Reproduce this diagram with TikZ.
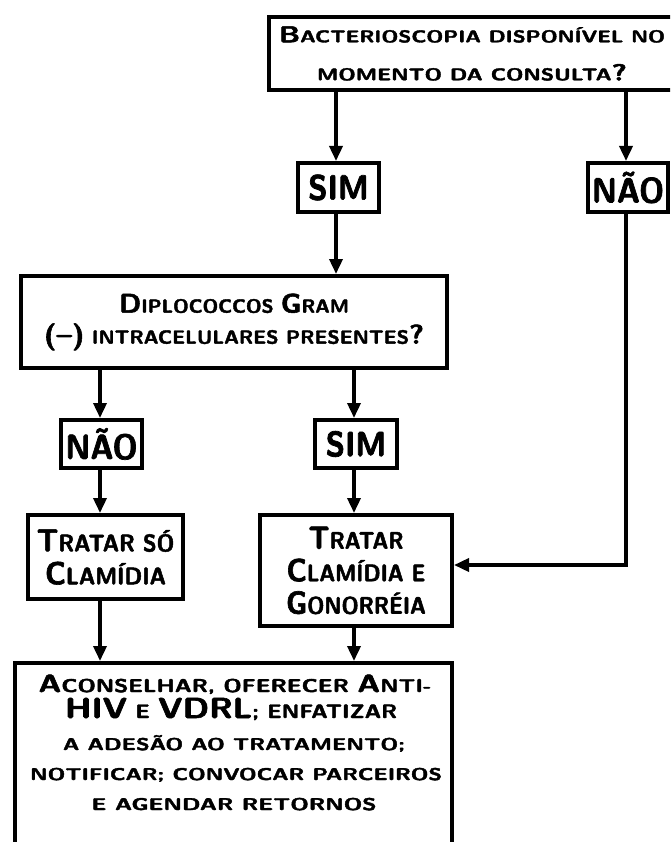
\documentclass[tikz,border=0pt]{standalone}
\usepackage{fontspec}
\usepackage{graphicx}
\usetikzlibrary{arrows.meta}
% heavy sans used for every label
\newfontfamily\capsfont{lmsans10-bold.otf}[FakeBold=2]
\newfontfamily\answerfont{lmsans10-bold.otf}[FakeBold=2, FakeStretch=0.9]
% size of the large initials in the small-capital style labels
\newcommand\bgsz{20}
\newcommand\Bg[1]{{\fontsize{\bgsz}{\bgsz}\selectfont #1}}
% small-capital setting: #1 horizontal stretch, #2 small size, #3 large size
\newcommand\capset[3]{\capsfont\addfontfeatures{FakeStretch=#1}\fontsize{#2}{#2}\selectfont\def\bgsz{#3}}
% a line set to a given width, its height unchanged
\newcommand\fitw[2]{\resizebox{#1}{\height}{#2}}
\begin{document}
\begin{tikzpicture}[x=1pt,y=-1pt,
  box/.style={draw, line width=4pt, inner sep=0pt, anchor=north west, align=center},
  answer/.style={box, font={\answerfont\fontsize{35}{35}\selectfont}},
  line/.style={anchor=base, inner sep=0pt},
  arr/.style={line width=3.5pt, -{Triangle[width=13pt,length=15pt]}}]
\useasboundingbox (0,0) rectangle (670,842);
\clip (0,0) rectangle (670,842);

% column guides for the connectors
\coordinate (cA) at (336,0);
\coordinate (cB) at (626,0);
\coordinate (cL) at (100,0);
\coordinate (cM) at (354,0);
\coordinate (cH) at (0,565);

\node[box, minimum width=406pt, minimum height=73pt,
  font={\capset{1}{17}{23}\baselineskip=38pt}] (top) at (267,15)
  {\fitw{386pt}{\Bg{B}ACTERIOSCOPIA DISPONÍVEL NO}\\
   \fitw{310pt}{MOMENTO DA CONSULTA\Bg{?}}};

\node[answer, minimum width=81pt, minimum height=49pt] (sim1) at (296,161) {SIM};
\node[answer, minimum width=80pt, minimum height=49pt] (nao1) at (586,161) {NÃO};

\node[box, minimum width=426pt, minimum height=92pt,
  font={\capset{1}{19}{27}\baselineskip=31pt}] (diplo) at (19,274)
  {\fitw{230pt}{\Bg{D}IPLOCOCCOS \Bg{G}RAM}\\
   \fitw{380pt}{\Bg{(–)} INTRACELULARES PRESENTES\Bg{?}}};

\node[answer, minimum width=81pt, minimum height=48pt] (nao2) at (59,418) {NÃO};
\node[answer, minimum width=82pt, minimum height=48pt] (sim2) at (313,418) {SIM};

\node[box, minimum width=155pt, minimum height=84pt,
  font={\capset{0.93}{24}{32}\baselineskip=33pt}] (tr1) at (26,513)
  {\Bg{T}RATAR SÓ\\\Bg{C}LAMÍDIA};
\node[box, minimum width=192pt, minimum height=111pt,
  font={\capset{0.9}{24}{32}\baselineskip=32.5pt}] (tr2) at (258,513)
  {\Bg{T}RATAR\\\Bg{C}LAMÍDIA E\\\Bg{G}ONORRÉIA};

% closing box: it runs past the lower edge
\node[box, minimum width=437pt, minimum height=260pt] (final) at (13,661) {};
\node[line, font={\capset{1}{18.5}{25}}] (f1) at (235,692)
  {\fitw{393pt}{\Bg{A}CONSELHAR, OFERECER \Bg{A}NTI-}};
\node[line, font={\capset{1}{19.5}{29}}] (f2) at (231,718)
  {\fitw{332pt}{\Bg{HIV} E \Bg{VDRL}; ENFATIZAR}};
\node[line, font={\capset{1}{17}{25}}] (f3) at (234,750)
  {\fitw{342pt}{A ADESÃO AO TRATAMENTO;}};
\node[line, font={\capset{1}{17}{25}}] (f4) at (236,780)
  {\fitw{412pt}{NOTIFICAR; CONVOCAR PARCEIROS}};
\node[line, font={\capset{1}{17}{25}}] (f5) at (234,810)
  {\fitw{285pt}{E AGENDAR RETORNOS}};

% connectors
\draw[arr] (top.south -| cA) -- (sim1.north -| cA);
\draw[arr] (top.south -| cB) -- (nao1.north -| cB);
\draw[arr] (sim1.south -| cA) -- (diplo.north -| cA);
\draw[arr] (diplo.south -| cL) -- (nao2.north -| cL);
\draw[arr] (diplo.south -| cM) -- (sim2.north -| cM);
\draw[arr] (nao2.south -| cL) -- (tr1.north -| cL);
\draw[arr] (sim2.south -| cM) -- (tr2.north -| cM);
\draw[arr] (tr1.south -| cL) -- (final.north -| cL);
\draw[arr] (tr2.south -| cM) -- (final.north -| cM);
\draw[arr] (nao1.south -| cB) |- (tr2.east |- cH);
\end{tikzpicture}
\end{document}
